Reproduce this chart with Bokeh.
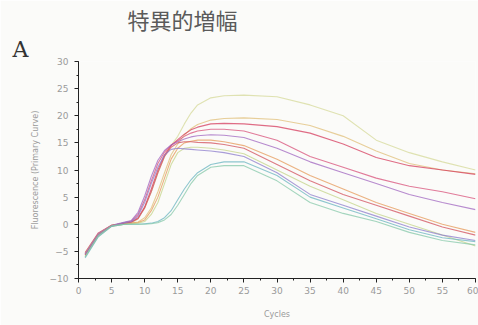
from bokeh.plotting import figure
from bokeh.models import Range1d, Title, SingleIntervalTicker
from bokeh.embed import file_html
from bokeh.resources import INLINE

# ---- data ----
cycles = [1, 3, 5, 7, 8, 9, 10, 11, 12, 13, 14, 15, 16, 17, 18, 20, 22, 25, 30, 35, 40, 45, 50, 55, 60]

pale_curve = [-5.8, -2.0, -0.3, 0.0, 0.2, 1.0, 3.0, 6.0, 9.5, 12.5, 14.5, 16.2, 18.5, 20.5, 22.0, 23.3, 23.7, 23.8, 23.5, 22.0, 20.0, 15.5, 13.2, 11.5, 10.0]
yellow_curve = [-5.5, -1.8, -0.2, 0.1, 0.2, 0.4, 1.2, 3.0, 6.0, 9.5, 12.8, 14.8, 16.5, 17.6, 18.4, 19.2, 19.5, 19.6, 19.3, 18.2, 16.2, 13.5, 11.2, 10.0, 9.3]
red_curve = [-5.2, -1.6, -0.2, 0.2, 0.4, 1.2, 3.2, 6.5, 10.0, 12.8, 14.5, 15.6, 16.6, 17.4, 17.9, 18.5, 18.6, 18.5, 18.0, 16.8, 14.8, 12.3, 10.8, 10.0, 9.2]
red2_curve = [-5.6, -1.9, -0.3, 0.3, 0.6, 1.8, 4.5, 8.0, 11.2, 13.3, 14.6, 15.4, 16.2, 16.8, 17.2, 17.5, 17.5, 17.2, 15.5, 12.5, 10.5, 8.5, 7.0, 6.0, 4.7]
purple_curve = [-5.4, -1.7, -0.2, 0.4, 0.7, 2.2, 5.2, 8.8, 11.8, 13.6, 14.6, 15.2, 15.7, 16.1, 16.3, 16.5, 16.4, 16.0, 14.0, 11.5, 9.5, 7.5, 5.5, 4.0, 2.7]
orange_curve = [-5.3, -1.8, -0.2, 0.1, 0.2, 0.3, 0.8, 2.5, 5.0, 8.5, 12.0, 14.0, 15.0, 15.3, 15.5, 15.5, 15.2, 14.5, 12.0, 9.0, 6.5, 4.0, 2.0, 0.0, -1.5]
red3_curve = [-5.7, -2.0, -0.3, 0.2, 0.4, 1.0, 3.0, 6.0, 9.5, 12.5, 14.2, 15.0, 15.2, 15.2, 15.1, 15.0, 14.7, 14.0, 11.0, 8.0, 5.5, 3.5, 1.5, -0.5, -2.0]
yelgreen_curve = [-6.0, -2.2, -0.4, 0.0, 0.1, 0.2, 0.5, 1.8, 4.0, 7.5, 11.0, 13.2, 14.0, 14.2, 14.2, 14.0, 13.7, 13.0, 10.0, 7.0, 4.5, 2.0, 0.0, -2.0, -4.0]
purple2_curve = [-5.5, -1.9, -0.3, 0.3, 0.5, 1.5, 4.0, 7.5, 10.5, 12.8, 13.8, 14.0, 13.9, 13.8, 13.7, 13.5, 13.2, 12.5, 9.5, 5.5, 3.5, 1.5, -0.5, -2.0, -3.0]
teal_curve = [-6.2, -2.3, -0.4, 0.0, 0.0, 0.0, 0.1, 0.2, 0.5, 1.2, 2.5, 4.5, 6.5, 8.2, 9.5, 11.0, 11.5, 11.5, 9.0, 5.0, 3.0, 1.0, -1.0, -2.5, -3.2]
cyan_curve = [-6.0, -2.1, -0.3, 0.0, 0.0, 0.0, 0.0, 0.1, 0.3, 0.8, 1.8, 3.5, 5.5, 7.5, 9.0, 10.5, 10.8, 10.8, 8.0, 4.0, 2.0, 0.5, -1.5, -3.0, -3.8]

series = [
    (pale_curve, "#d6d99a"),
    (yellow_curve, "#e0bf78"),
    (red_curve, "#d63c5e"),
    (red2_curve, "#d8507a"),
    (purple_curve, "#a066c0"),
    (orange_curve, "#e69a5a"),
    (red3_curve, "#d2505c"),
    (yelgreen_curve, "#c4d48a"),
    (purple2_curve, "#8c7ccc"),
    (teal_curve, "#6ab4c0"),
    (cyan_curve, "#86c8aa"),
]

title_text = "特異的増幅"
panel_letter = "A"

W, H = 478, 325
p = figure(width=W, height=H, output_backend="svg", toolbar_location=None,
           x_range=Range1d(0, 60), y_range=Range1d(-10, 30),
           background_fill_color="#fbfbf9", border_fill_color="#fbfbf9")
p.min_border_left = 78
p.min_border_top = 60
p.min_border_bottom = 47
p.min_border_right = 3
p.outline_line_color = None
p.grid.visible = False

for vals, col in series:
    p.line(cycles, vals, line_color=col, line_width=1.1, line_alpha=0.75)

for ax in (p.xaxis[0], p.yaxis[0]):
    ax.axis_line_color = "#222222"
    ax.major_tick_line_color = "#222222"
    ax.minor_tick_line_color = "#222222"
    ax.major_tick_out = 4
    ax.major_tick_in = 0
    ax.minor_tick_out = 2
    ax.minor_tick_in = 0
    ax.major_label_text_color = "#9a9a9a"
    ax.major_label_text_font = "DejaVu Sans"
    ax.major_label_text_font_size = "9px"
    ax.axis_label_text_color = "#9a9a9a"
    ax.axis_label_text_font = "DejaVu Sans"
    ax.axis_label_text_font_size = "8px"
    ax.axis_label_text_font_style = "normal"

p.xaxis.ticker = SingleIntervalTicker(interval=5, num_minor_ticks=2)
p.yaxis.ticker = SingleIntervalTicker(interval=5, num_minor_ticks=2)
p.xaxis.axis_label = "Cycles"
p.yaxis.axis_label = "Fluorescence (Primary Curve)"
p.xaxis.axis_label_standoff = 13
p.yaxis.axis_label_standoff = 7
p.xaxis.major_label_standoff = 4
p.yaxis.major_label_standoff = 6

# outer title (top of canvas)
p.title = Title(text=title_text, align="left", offset=49, standoff=0,
                text_font="Noto Sans CJK JP", text_font_size="22px",
                text_line_height=1.0, text_font_style="normal", text_color="#5a5a5a")
# inner title (closer to the frame): panel letter
p.add_layout(Title(text=panel_letter, align="left", offset=-66, standoff=0,
                   text_font="DejaVu Serif", text_font_size="22px",
                   text_line_height=1.0, text_font_style="normal", text_color="#333333"), "above")

open("out.html", "w").write(file_html(p, INLINE))
